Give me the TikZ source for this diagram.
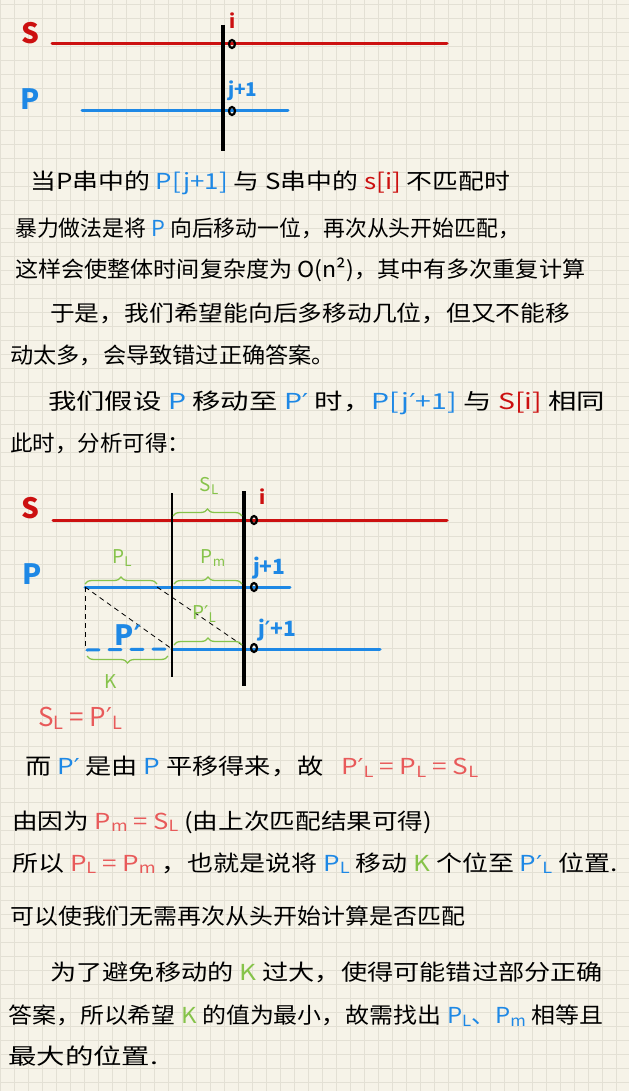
\documentclass[tikz,border=0pt]{standalone}
\usepackage{fontspec}
\setmainfont{Noto Sans CJK SC}
\newfontfamily\dejav{DejaVu Sans}
\usetikzlibrary{decorations.pathreplacing,shapes.geometric}
\definecolor{paper}{HTML}{F6F3E8}
\definecolor{gridc}{HTML}{E3E0D4}
\definecolor{sred}{HTML}{CC1010}
\definecolor{pblue}{HTML}{1E88E5}
\definecolor{lgreen}{HTML}{86C34A}
\definecolor{fred}{HTML}{E85A5A}
\newcommand\mysub[1]{\raisebox{-0.12em}{\scalebox{0.7}{#1}}}
\newcommand\pr{{\dejav ′}}
\newcommand\fitw[2]{\resizebox{#1}{\height}{#2}}
\tikzset{
  txt/.style={anchor=west, inner sep=0pt, font=\fontsize{22}{22}\selectfont},
  biglbl/.style={inner sep=0pt, font=\fontsize{28}{28}\selectfont\bfseries},
  idx/.style={inner sep=0pt, anchor=west, font=\fontsize{19}{19}\selectfont\bfseries},
  sline/.style={draw=sred, line width=3pt, line cap=round},
  pline/.style={draw=pblue, line width=3pt, line cap=round},
  thick bar/.style={draw=black, line width=3.2pt},
  thin bar/.style={draw=black, line width=1.5pt},
  dot/.style={draw=black, line width=2.2pt, ellipse, minimum width=6pt, minimum height=8pt, inner sep=0pt},
  gbrace/.style={draw=lgreen, line width=1.3pt, decorate, decoration={brace, amplitude=7pt}},
  glbl/.style={inner sep=0pt, text=lgreen, font=\fontsize{19}{19}\selectfont},
  dline/.style={draw=black, line width=0.8pt, dash pattern=on 5pt off 4pt},
}
\begin{document}
\begin{tikzpicture}[x=1pt, y=-1pt]
\useasboundingbox (0,0) rectangle (629,1091);
\fill[paper] (0,0) rectangle (629,1091);
\foreach \gx in {0,14,...,628} \draw[gridc, line width=0.6pt] (\gx,0) -- (\gx,1091);
\foreach \gy in {4,18,...,1090} \draw[gridc, line width=0.6pt] (0,\gy) -- (629,\gy);

% ---------- diagram 1 ----------
\node[biglbl, text=sred] (S1) at (30,33) {S};
\node[biglbl, text=pblue] (P1) at (30,99) {P};
\coordinate (s1a) at (52,44); \coordinate (s1b) at (447,44);
\coordinate (p1a) at (82,111); \coordinate (p1b) at (288,111);
\coordinate (b1t) at (223,25); \coordinate (b1b) at (223,151);
\draw[sline] (s1a) -- (s1b);
\draw[pline] (p1a) -- (p1b);
\draw[thick bar] (b1t) -- (b1b);
\node[dot] (d1) at (232,44) {};
\node[dot] (d2) at (232,111) {};
\node[idx, text=sred] (i1) at (229,21) {i};
\node[idx, text=pblue] (j1) at (228,91) {j+1};

% ---------- text block 1 ----------
\node[txt] (t1) at (30,183) {\fitw{480pt}{当P串中的 \textcolor{pblue}{P[j+1]} 与 S串中的 \textcolor{sred}{s[i]} 不匹配时}};
\node[txt] (t2) at (15,228) {\fitw{505pt}{暴力做法是将 \textcolor{pblue}{P} 向后移动一位，再次从头开始匹配，}};
\node[txt] (t3) at (15,270) {\fitw{570pt}{这样会使整体时间复杂度为 O(n²)，其中有多次重复计算}};
\node[txt] (t4) at (50,313) {\fitw{520pt}{于是，我们希望能向后多移动几位，但又不能移}};
\node[txt] (t5) at (10,355) {\fitw{325pt}{动太多，会导致错过正确答案。}};
\node[txt] (t6) at (48,403) {\fitw{557pt}{我们假设 \textcolor{pblue}{P} 移动至 \textcolor{pblue}{P\pr} 时，\textcolor{pblue}{P[j\pr+1]} 与 \textcolor{sred}{S[i]} 相同}};
\node[txt] (t7) at (10,443) {\fitw{180pt}{此时，分析可得：}};

% ---------- diagram 2 ----------
\node[biglbl, text=sred] (S2) at (30,508) {S};
\node[biglbl, text=pblue] (P2) at (32,574) {P};
\coordinate (s2a) at (53,520); \coordinate (s2b) at (447,520);
\coordinate (p2a) at (85,587); \coordinate (p2b) at (290,587);
\coordinate (q2d) at (87,650); \coordinate (q2m) at (172,649); \coordinate (q2b) at (380,649);
\coordinate (tn1) at (172,493); \coordinate (tn2) at (172,677);
\coordinate (tk1) at (244,491); \coordinate (tk2) at (244,686);
\coordinate (pl) at (157,587); \coordinate (pm) at (242,587);
\coordinate (qd) at (85,650); \coordinate (qe) at (242,645);
\draw[sline] (s2a) -- (s2b);
\draw[pline] (p2a) -- (p2b);
\draw[pline, dash pattern=on 12pt off 10pt] (q2d) -- (q2m);
\draw[pline] (q2m) -- (q2b);
\draw[thin bar] (tn1) -- (tn2);
\draw[thick bar] (tk1) -- (tk2);
\draw[dline] (p2a) -- (qd);
\draw[dline] (p2a) -- (q2m);
\draw[dline] (pl) -- (qe);
\node[dot] (d3) at (254,520) {};
\node[dot] (d4) at (254,587) {};
\node[dot] (d5) at (254,648) {};
\node[idx, text=sred] (i2) at (259,497) {i};
\node[idx, text=pblue, font=\fontsize{21}{21}\selectfont\bfseries] (j2) at (253,568) {j+1};
\node[idx, text=pblue, font=\fontsize{21}{21}\selectfont\bfseries] (j3) at (258,630) {j\pr+1};
\node[biglbl, text=pblue, font=\fontsize{28}{28}\selectfont\bfseries] (Pp) at (128,635) {P\pr};
% braces
\draw[gbrace] (173,516) -- (242,516);
\node[glbl] (bSL) at (209,486) {S\mysub{L}};
\draw[gbrace] (85,584) -- (157,584);
\node[glbl] (bPL) at (122,558) {P\mysub{L}};
\draw[gbrace] (174,584) -- (242,584);
\node[glbl] (bPm) at (213,558) {P\mysub{m}};
\draw[gbrace] (174,645) -- (242,645);
\node[glbl] (bPpL) at (204,614) {P\pr\mysub{L}};
\draw[gbrace] (168,656) -- (87,656);
\node[glbl] (bK) at (111,682) {K};
\node[txt, text=fred, font=\fontsize{26}{26}\selectfont] (eq1) at (38,718) {S\mysub{L} = P\pr\mysub{L}};

% ---------- text block 2 ----------
\node[txt] (t8) at (25,767) {\fitw{453pt}{而 \textcolor{pblue}{P\pr} 是由 \textcolor{pblue}{P} 平移得来，故 \ \ \textcolor{fred}{P\pr\mysub{L} = P\mysub{L} = S\mysub{L}}}};
\node[txt] (t9) at (12,822) {\fitw{420pt}{由因为 \textcolor{fred}{P\mysub{m} = S\mysub{L}} (由上次匹配结果可得)}};
\node[txt] (t10) at (12,863) {\fitw{605pt}{所以 \textcolor{fred}{P\mysub{L} = P\mysub{m}} ，也就是说将 \textcolor{pblue}{P\mysub{L}} 移动 \textcolor{lgreen}{K} 个位至 \textcolor{pblue}{P\pr\mysub{L}} 位置.}};
\node[txt] (t11) at (10,916) {\fitw{455pt}{可以使我们无需再次从头开始计算是否匹配}};
\node[txt] (t12) at (50,972) {\fitw{553pt}{为了避免移动的 \textcolor{lgreen}{K} 过大，使得可能错过部分正确}};
\node[txt] (t13) at (8,1016) {\fitw{595pt}{答案，所以希望 \textcolor{lgreen}{K} 的值为最小，故需找出 \textcolor{pblue}{P\mysub{L}、P\mysub{m}} 相等且}};
\node[txt] (t14) at (8,1056) {\fitw{150pt}{最大的位置.}};
\end{tikzpicture}
\end{document}
